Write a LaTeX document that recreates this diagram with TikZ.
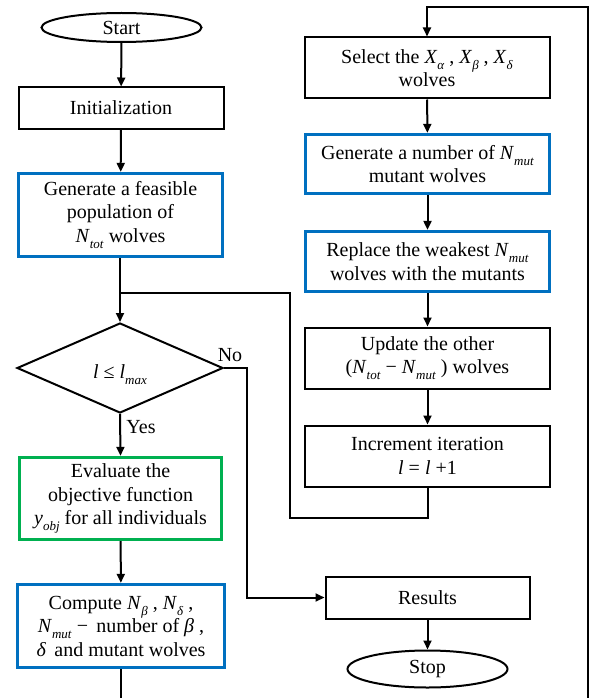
\documentclass[tikz,border=0pt]{standalone}
\usepackage{fontspec}
\setmainfont{Liberation Serif}
\usetikzlibrary{shapes.geometric,arrows.meta}
\definecolor{fblue}{RGB}{0,112,192}
\definecolor{fgreen}{RGB}{0,176,80}
\newcommand\vsub[2]{\textit{#1}\raisebox{-0.3em}{\fontsize{13}{13}\selectfont\textit{#2}}}
\begin{document}
\begin{tikzpicture}[x=1pt,y=-1pt,
  every node/.style={font=\fontsize{20}{23.5}\selectfont},
  box/.style={draw, rectangle, line width=2pt, align=center, inner sep=0pt},
  bluebox/.style={box, draw=fblue, line width=3.3pt},
  greenbox/.style={box, draw=fgreen, line width=3.3pt},
  term/.style={draw, ellipse, line width=2pt, inner sep=0pt},
  ln/.style={line width=2pt},
  arr/.style={line width=2pt, -{Triangle[length=9pt,width=8pt]}},
  lbl/.style={inner sep=0pt}]
\useasboundingbox (0,0) rectangle (590,698);
\clip (0,0) rectangle (590,698);
% left column
\node[term, minimum width=160pt, minimum height=29pt] (start) at (121.5,27.5) {Start};
\node[box, minimum width=205pt, minimum height=41pt] (init) at (121,108) {Initialization};
\node[bluebox, minimum width=204pt, minimum height=83pt] (gen) at (120.5,215) {Generate a feasible\\population of\\\vsub{N}{tot} wolves};
\node[draw, diamond, line width=2pt, minimum width=206pt, minimum height=90pt, inner sep=0pt, shape aspect=2.29] (dec) at (120,368) {};
\node[lbl] (dectxt) at (120,375) {\textit{l} ≤ \vsub{l}{max}};
\node[greenbox, minimum width=202pt, minimum height=82pt] (eval) at (120.5,498.5) {Evaluate the\\objective function\\\vsub{y}{obj} for all individuals};
\node[bluebox, minimum width=207pt, minimum height=83pt] (comp) at (121,626) {Compute \vsub{N}{β} , \vsub{N}{δ} ,\\\vsub{N}{mut} −\, number of \textit{β} ,\\\textit{δ}\, and mutant wolves};
% right column
\node[box, minimum width=245pt, minimum height=61pt] (sel) at (427,68) {Select the \vsub{X}{α} , \vsub{X}{β} , \vsub{X}{δ}\\wolves};
\node[bluebox, minimum width=244pt, minimum height=59pt] (mut) at (427.5,164) {Generate a number of \vsub{N}{mut}\\mutant wolves};
\node[bluebox, minimum width=244pt, minimum height=60pt] (rep) at (427.5,261.5) {Replace the weakest \vsub{N}{mut}\\wolves with the mutants};
\node[box, minimum width=245pt, minimum height=61pt] (upd) at (427.5,358) {Update the other\\(\vsub{N}{tot} − \vsub{N}{mut} ) wolves};
\node[box, minimum width=245pt, minimum height=61pt] (inc) at (427.5,456) {Increment iteration\\\textit{l} = \textit{l} +1};
\node[box, minimum width=204pt, minimum height=42pt] (res) at (427.5,597.5) {Results};
\node[term, minimum width=160pt, minimum height=37pt] (stop) at (427.5,669) {Stop};
% labels
\node[lbl] (no) at (230,355) {No};
\node[lbl] (yes) at (141,427) {Yes};
% helper coordinates
\coordinate (j1) at (121,293);
\coordinate (ib) at (427.5,518);
\coordinate (il) at (290,518);
\coordinate (it) at (290,293);
\coordinate (n1) at (247,368);
\coordinate (n2) at (247,597.5);
\coordinate (b1) at (121,712);
\coordinate (b2) at (588,712);
\coordinate (t1) at (588,7);
\coordinate (t2) at (427,7);
% connectors
\draw[arr] (start) -- (init);
\draw[arr] (init) -- (gen);
\draw[arr] (gen.south -| dec.north) -- (dec.north);
\draw[ln] (inc.south) -- (ib) -- (il) -- (it) -- (j1);
\draw[arr] (dec.east) -- (n1) -- (n2) -- (res.west);
\draw[arr] (dec.south) -- (eval.north);
\draw[arr] (eval) -- (comp);
\draw[arr] (comp.south) -- (b1) -- (b2) -- (t1) -- (t2) -- (sel.north);
\draw[arr] (sel) -- (mut);
\draw[arr] (mut) -- (rep);
\draw[arr] (rep) -- (upd);
\draw[arr] (upd) -- (inc);
\draw[arr] (res) -- (stop);
\end{tikzpicture}
\end{document}
